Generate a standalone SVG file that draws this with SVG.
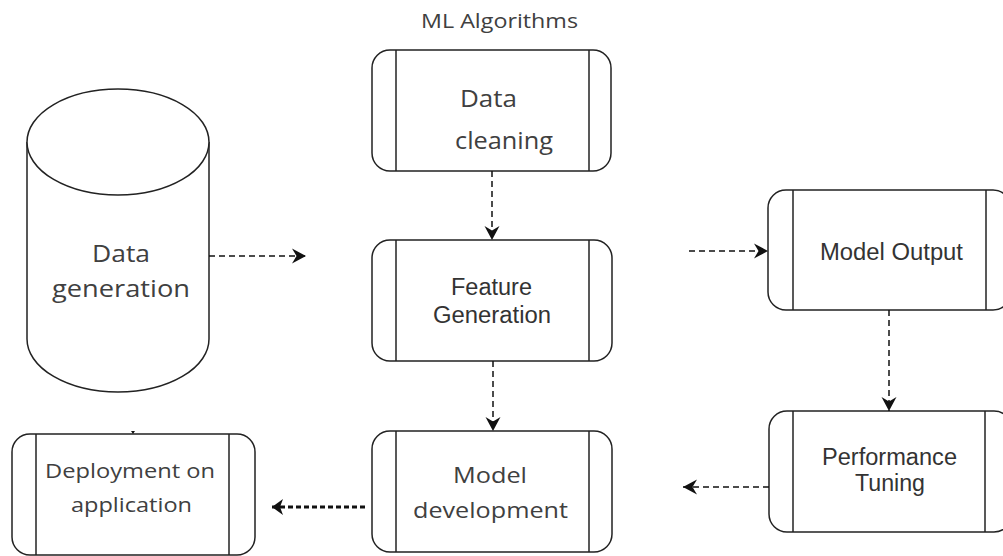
<svg xmlns="http://www.w3.org/2000/svg" width="1003" height="556" viewBox="0 0 1003 556">
<style>
.box{fill:#fff;stroke:#222;stroke-width:1.5}
.ln{stroke:#222;stroke-width:1.5;fill:none}
.cal{font-family:"Open Sans","Liberation Sans",sans-serif;fill:#404040;text-anchor:middle}
.ari{font-family:"Liberation Sans",Arial,sans-serif;fill:#333;text-anchor:middle}
.dash{stroke:#111;stroke-width:1.5;fill:none;stroke-dasharray:6 4}
.bold{stroke:#111;stroke-width:3;fill:none;stroke-dasharray:5 3}
</style>
<defs>
<marker id="ah" markerUnits="userSpaceOnUse" markerWidth="18" markerHeight="18" viewBox="-16 -9 18 18" refX="0" refY="0" orient="auto">
<path d="M0,0 L-14,-7.5 L-9.5,0 L-14,7.5 Z" fill="#111"/>
</marker>
<marker id="ahb" markerUnits="userSpaceOnUse" markerWidth="18" markerHeight="20" viewBox="-14 -10 16 20" refX="0" refY="0" orient="auto">
<path d="M0,0 L-11,-8 L-8,0 L-11,8 Z" fill="#111"/>
</marker>
</defs>
<rect width="1003" height="556" fill="#fff"/>

<text class="cal" x="499.5" y="28" font-size="20" textLength="157" lengthAdjust="spacingAndGlyphs">ML Algorithms</text>

<g id="data-generation">
<path class="box" d="M27,142 L27,339 A91,53 0 0 0 209,339 L209,142"/>
<ellipse class="box" cx="118" cy="142" rx="91" ry="53"/>
<text class="cal" x="121" y="262" font-size="24" textLength="58" lengthAdjust="spacingAndGlyphs">Data</text>
<text class="cal" x="121" y="297" font-size="24" textLength="138" lengthAdjust="spacingAndGlyphs">generation</text>
</g>

<g id="data-cleaning">
<rect class="box" x="372" y="50" width="239" height="121" rx="18"/>
<line class="ln" x1="396" y1="50" x2="396" y2="171"/>
<line class="ln" x1="589" y1="50" x2="589" y2="171"/>
<text class="cal" x="488.5" y="107" font-size="23" textLength="57" lengthAdjust="spacingAndGlyphs">Data</text>
<text class="cal" x="504" y="149" font-size="23" textLength="98" lengthAdjust="spacingAndGlyphs">cleaning</text>
</g>

<g id="feature-generation">
<rect class="box" x="372" y="240" width="240" height="121" rx="18"/>
<line class="ln" x1="396" y1="240" x2="396" y2="361"/>
<line class="ln" x1="589" y1="240" x2="589" y2="361"/>
<text class="ari" x="491.5" y="295" font-size="23" textLength="81" lengthAdjust="spacingAndGlyphs">Feature</text>
<text class="ari" x="492" y="323" font-size="23" textLength="118" lengthAdjust="spacingAndGlyphs">Generation</text>
</g>

<g id="model-development">
<rect class="box" x="372" y="431" width="240" height="121" rx="18"/>
<line class="ln" x1="396" y1="431" x2="396" y2="552"/>
<line class="ln" x1="589" y1="431" x2="589" y2="552"/>
<text class="cal" x="490" y="483" font-size="21" textLength="74" lengthAdjust="spacingAndGlyphs">Model</text>
<text class="cal" x="490.5" y="518" font-size="21" textLength="155" lengthAdjust="spacingAndGlyphs">development</text>
</g>

<g id="deployment">
<rect class="box" x="12" y="434" width="243" height="121" rx="18"/>
<line class="ln" x1="36" y1="434" x2="36" y2="555"/>
<line class="ln" x1="229" y1="434" x2="229" y2="555"/>
<text class="cal" x="130" y="478" font-size="20" textLength="170" lengthAdjust="spacingAndGlyphs">Deployment on</text>
<text class="cal" x="131.5" y="512" font-size="20" textLength="121" lengthAdjust="spacingAndGlyphs">application</text>
</g>

<g id="model-output">
<rect class="box" x="768" y="190" width="243" height="120" rx="18"/>
<line class="ln" x1="793" y1="190" x2="793" y2="310"/>
<line class="ln" x1="986" y1="190" x2="986" y2="310"/>
<text class="ari" x="891.5" y="260" font-size="23" textLength="143" lengthAdjust="spacingAndGlyphs">Model Output</text>
</g>

<g id="performance-tuning">
<rect class="box" x="769" y="411" width="243" height="121" rx="18"/>
<line class="ln" x1="793" y1="411" x2="793" y2="532"/>
<line class="ln" x1="985" y1="411" x2="985" y2="532"/>
<text class="ari" x="889.5" y="465" font-size="23" textLength="135" lengthAdjust="spacingAndGlyphs">Performance</text>
<text class="ari" x="890" y="491" font-size="23" textLength="70" lengthAdjust="spacingAndGlyphs">Tuning</text>
</g>

<g id="connectors">
<line class="dash" x1="209" y1="256" x2="306" y2="256" marker-end="url(#ah)"/>
<line class="dash" x1="492" y1="171" x2="492" y2="240" marker-end="url(#ah)"/>
<line class="dash" x1="493" y1="361" x2="493" y2="431" marker-end="url(#ah)"/>
<line class="dash" x1="689" y1="251" x2="768" y2="251" marker-end="url(#ah)"/>
<line class="dash" x1="889" y1="310" x2="889" y2="411" marker-end="url(#ah)"/>
<line class="dash" x1="769" y1="487" x2="683" y2="487" marker-end="url(#ah)"/>
<line class="bold" x1="365" y1="507" x2="272" y2="507" marker-end="url(#ahb)"/>
<path d="M131,431 L135,431 L133,434 Z" fill="#111"/>
</g>
</svg>
